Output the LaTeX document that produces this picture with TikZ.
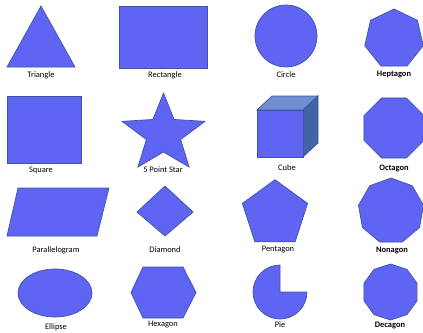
\documentclass[tikz,border=0pt]{standalone}
\usepackage{fontspec}
\setmainfont{Carlito}
\usepackage{tikz}
\usetikzlibrary{calc}
\definecolor{shapefill}{RGB}{96,100,242}
\definecolor{shapeline}{RGB}{62,84,168}
\definecolor{cubetop}{RGB}{112,142,208}
\definecolor{cubeside}{RGB}{66,100,162}
\tikzset{shp/.style={draw=shapeline, fill=shapefill, line width=0.5pt, line join=miter}}
\tikzset{lbl/.style={font=\fontsize{6}{7}\selectfont, inner sep=0pt}}
\tikzset{lblb/.style={lbl, font=\fontsize{6}{7}\selectfont\bfseries}}

\begin{document}
\begin{tikzpicture}[x=0.025cm, y=0.025cm]
  \useasboundingbox[fill=white] (0,0) rectangle (423,332);
  % row 1
  \draw[shp] (41,326) -- (75,265) -- (7,265) -- cycle;
  \node[lbl] (triangle) at (41,257) {Triangle};
  \draw[shp] (119,264) rectangle (207,326);
  \node[lbl] (rectangle) at (165,257) {Rectangle};
  \draw[shp] (286,296) circle (31);
  \node[lbl] (circle) at (286,257) {Circle};
  \draw[shp] (394,293) +(90:30) \foreach \k in {1,...,6} { -- +(90+\k*360/7:30) } -- cycle;
  \node[lblb] (heptagon) at (394,258) {Heptagon};
  % row 2
  \draw[shp] (7,169) rectangle (81,236);
  \node[lbl] (square) at (41,162) {Square};
  \draw[shp] (163.5,198) +(90:43.6 and 40.9)
    \foreach \k in {0,...,4} { -- +(126+\k*72:18 and 18) -- +(162+\k*72:43.6 and 40.9) } -- cycle;
  \node[lbl] (star) at (163,162) {5 Point Star};
  \draw[shp, fill=cubetop] (257,222) -- (272,236) -- (318,236) -- (303,222) -- cycle;
  \draw[shp, fill=cubeside] (303,175) -- (318,189) -- (318,236) -- (303,222) -- cycle;
  \draw[shp] (257,175) rectangle (303,222);
  \node[lbl] (cube) at (287,164) {Cube};
  \draw[shp] (394,204) +(22.5:32.5) \foreach \k in {1,...,7} { -- +(22.5+\k*45:32.5) } -- cycle;
  \node[lblb] (octagon) at (394,164) {Octagon};
  % row 3
  \draw[shp] (18,144) -- (109,144) -- (97,96) -- (7,96) -- cycle;
  \node[lbl] (parallelogram) at (56,82) {Parallelogram};
  \draw[shp] (165,146) -- (193,120) -- (165,96) -- (137,120) -- cycle;
  \node[lbl] (diamond) at (165,82) {Diamond};
  \draw[shp] (275,118) +(90:34.3) \foreach \k in {1,...,4} { -- +(90+\k*72:34.3) } -- cycle;
  \node[lbl] (pentagon) at (278,82) {Pentagon};
  \draw[shp] (391,121) +(90:33) \foreach \k in {1,...,8} { -- +(90+\k*40:33) } -- cycle;
  \node[lblb] (nonagon) at (392,82) {Nonagon};
  % row 4
  \draw[shp] (55,39) ellipse (37 and 24);
  \node[lbl] (ellipse) at (56,5) {Ellipse};
  \draw[shp] (131,39.5) -- (143,65) -- (183,65) -- (196,39.5) -- (183,14) -- (143,14) -- cycle;
  \node[lbl] (hexagon) at (163,7) {Hexagon};
  \draw[shp] (280,40) -- (280,67) arc (90:360:27) -- cycle;
  \node[lbl] (pie) at (280,7) {Pie};
  \draw[shp] (390.5,40) +(18:28) \foreach \k in {1,...,9} { -- +(18+\k*36:28) } -- cycle;
  \node[lblb] (decagon) at (390,7) {Decagon};
\end{tikzpicture}
\end{document}
